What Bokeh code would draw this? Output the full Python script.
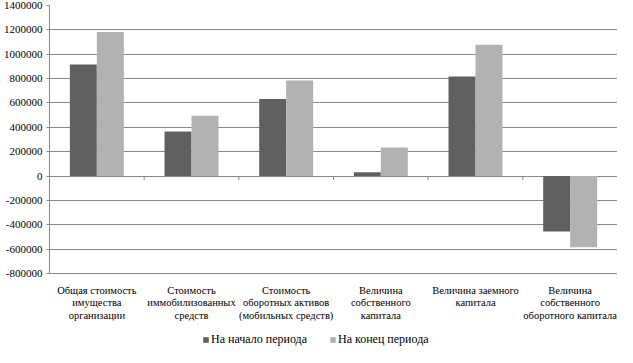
import numpy as np
from bokeh.plotting import figure
from bokeh.models import (Range1d, FixedTicker, NumeralTickFormatter,
                          Legend, LegendItem, ColumnDataSource)
from bokeh.core.properties import value
from bokeh.embed import file_html
from bokeh.resources import INLINE

categories = [
    "Общая стоимость\nимущества\nорганизации",
    "Стоимость\nиммобилизованных\nсредств",
    "Стоимость\nоборотных активов\n(мобильных средств)",
    "Величина\nсобственного\nкапитала",
    "Величина заемного\nкапитала",
    "Величина\nсобственного\nоборотного капитала",
]
series_names = ["На начало периода", "На конец периода"]
start_values = [915000, 365000, 632000, 32000, 818000, -455000]
end_values = [1182000, 495000, 785000, 235000, 1077000, -585000]
y_ticks = [-800000, -600000, -400000, -200000, 0, 200000, 400000, 600000,
           800000, 1000000, 1200000, 1400000]

FONT = "'Liberation Serif', 'Times New Roman', serif"
DARK = "#606060"
LIGHT = "#b2b2b2"
GRID = "#878787"

n = len(categories)
centers = np.arange(n) + 0.5
bar_w = 0.285

W, H = 617, 347
TOP = 5            # px of top tick from canvas top
AXIS_BOTTOM = 273  # px of lowest tick from canvas top
units_per_px = (y_ticks[-1] - y_ticks[0]) / (AXIS_BOTTOM - TOP)
ymin = y_ticks[0] - (H - AXIS_BOTTOM) * units_per_px

p = figure(width=W, height=H, output_backend="svg", toolbar_location=None,
           x_range=Range1d(0, n), y_range=Range1d(ymin, y_ticks[-1]),
           x_axis_location=None, min_border_left=46, min_border_right=0,
           min_border_top=TOP, min_border_bottom=0)
p.outline_line_color = None
p.background_fill_color = "white"
p.border_fill_color = "white"

src = ColumnDataSource(dict(x0=centers - bar_w / 2, x1=centers + bar_w / 2,
                            start=start_values, end=end_values))
r1 = p.vbar(x="x0", top="start", bottom=0, width=bar_w, source=src,
            fill_color=DARK, line_color=None)
r2 = p.vbar(x="x1", top="end", bottom=0, width=bar_w, source=src,
            fill_color=LIGHT, line_color=None)

# y axis
ya = p.yaxis[0]
ya.ticker = FixedTicker(ticks=y_ticks)
ya.bounds = (y_ticks[0], y_ticks[-1])
ya.formatter = NumeralTickFormatter(format="0")
ya.major_tick_in = 0
ya.major_tick_out = 3
ya.minor_tick_line_color = None
ya.axis_line_color = GRID
ya.major_tick_line_color = GRID
ya.major_label_text_font = FONT
ya.major_label_text_font_size = "11px"
ya.major_label_text_color = "black"
ya.major_label_standoff = 4

p.ygrid.ticker = FixedTicker(ticks=y_ticks)
p.ygrid.grid_line_color = GRID
p.ygrid.grid_line_width = 1
p.xgrid.grid_line_color = None

# category labels under the plot area
p.text(x=centers, y=np.full(n, y_ticks[0] - 11 * units_per_px), text=categories,
       text_align="center", text_baseline="top", text_font=value(FONT),
       text_font_size="10.5px", text_color="black", text_line_height=1.15)

# category boundary ticks on the zero line
bounds = np.arange(0, n + 1)
p.segment(x0=bounds, x1=bounds, y0=np.zeros(n + 1),
          y1=np.full(n + 1, -4 * units_per_px), line_color=GRID, line_width=1)

legend = Legend(items=[LegendItem(label=series_names[0], renderers=[r1]),
                       LegendItem(label=series_names[1], renderers=[r2])],
                orientation="horizontal", location=(153, 0))
legend.label_text_font = FONT
legend.label_text_font_size = "12px"
legend.label_text_color = "black"
legend.glyph_width = 7
legend.glyph_height = 7
legend.label_standoff = 2
legend.spacing = 22
legend.padding = 0
legend.margin = 0
legend.border_line_color = None
legend.background_fill_alpha = 0
p.add_layout(legend, "center")

open("out.html", "w").write(file_html(p, INLINE))
